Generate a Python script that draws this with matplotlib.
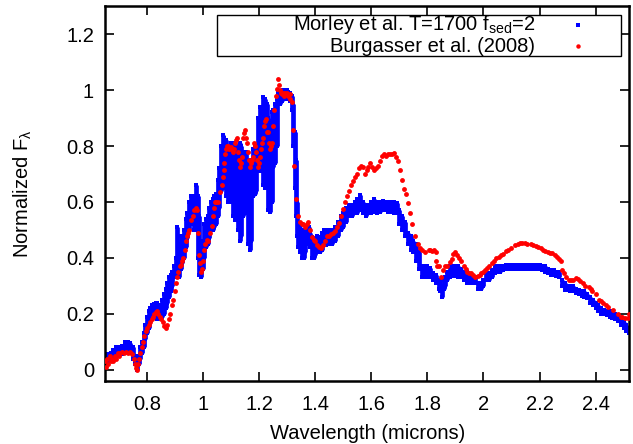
import matplotlib
matplotlib.use('Agg')
import matplotlib.pyplot as plt
from matplotlib.ticker import FormatStrFormatter
from matplotlib.patches import Rectangle
import numpy as np

plt.rcParams['font.family'] = ['Liberation Sans', 'DejaVu Sans']
plt.rcParams['mathtext.fontset'] = 'custom'
plt.rcParams['mathtext.rm'] = 'Liberation Sans'
plt.rcParams['mathtext.it'] = 'Liberation Sans'

# Morley et al. model: wavelength, lower and upper edge of the dense point band
blue_wl = [0.650, 0.660, 0.670, 0.680, 0.690, 0.700, 0.710, 0.720, 0.730, 0.740,
           0.750, 0.757, 0.764, 0.770, 0.776, 0.782, 0.788, 0.794, 0.800, 0.806,
           0.812, 0.818, 0.824, 0.830, 0.836, 0.842, 0.848, 0.854, 0.860, 0.866,
           0.872, 0.878, 0.884, 0.890, 0.896, 0.902, 0.908, 0.914, 0.920, 0.926,
           0.932, 0.938, 0.944, 0.950, 0.956, 0.962, 0.968, 0.974, 0.980, 0.986,
           0.992, 0.998, 1.004, 1.010, 1.016, 1.022, 1.028, 1.034, 1.040, 1.046,
           1.052, 1.058, 1.064, 1.070, 1.076, 1.082, 1.088, 1.094, 1.100, 1.106,
           1.112, 1.118, 1.124, 1.130, 1.136, 1.142, 1.148, 1.154, 1.160, 1.166,
           1.172, 1.178, 1.184, 1.190, 1.196, 1.202, 1.208, 1.214, 1.220, 1.226,
           1.232, 1.238, 1.244, 1.250, 1.256, 1.262, 1.268, 1.274, 1.280, 1.286,
           1.292, 1.298, 1.304, 1.310, 1.316, 1.322, 1.326, 1.330, 1.334, 1.340,
           1.346, 1.352, 1.358, 1.364, 1.370, 1.376, 1.382, 1.388, 1.394, 1.400,
           1.406, 1.412, 1.418, 1.424, 1.430, 1.440, 1.450, 1.460, 1.470, 1.480,
           1.490, 1.500, 1.510, 1.520, 1.530, 1.540, 1.550, 1.560, 1.570, 1.580,
           1.590, 1.600, 1.610, 1.620, 1.630, 1.640, 1.650, 1.660, 1.670, 1.680,
           1.690, 1.700, 1.710, 1.720, 1.730, 1.740, 1.750, 1.760, 1.770, 1.780,
           1.790, 1.800, 1.810, 1.820, 1.830, 1.840, 1.846, 1.852, 1.858, 1.864,
           1.870, 1.880, 1.890, 1.900, 1.910, 1.920, 1.930, 1.940, 1.950, 1.960,
           1.970, 1.980, 1.990, 2.000, 2.010, 2.020, 2.030, 2.040, 2.050, 2.060,
           2.070, 2.080, 2.090, 2.100, 2.110, 2.120, 2.130, 2.140, 2.150, 2.160,
           2.170, 2.180, 2.190, 2.200, 2.210, 2.220, 2.230, 2.240, 2.250, 2.260,
           2.270, 2.280, 2.290, 2.300, 2.310, 2.320, 2.330, 2.340, 2.350, 2.360,
           2.370, 2.380, 2.390, 2.400, 2.410, 2.420, 2.430, 2.440, 2.450, 2.460,
           2.470, 2.480, 2.490, 2.500, 2.510, 2.520]
blue_lo = [0.02, 0.03, 0.03, 0.04, 0.05, 0.05, 0.055, 0.06, 0.065, 0.06,
           0.04, 0.02, 0.0, 0.02, 0.04, 0.06, 0.08, 0.11, 0.13, 0.15,
           0.17, 0.18, 0.19, 0.19, 0.18, 0.19, 0.18, 0.19, 0.20, 0.22,
           0.24, 0.26, 0.28, 0.30, 0.33, 0.34, 0.34, 0.33, 0.36, 0.38,
           0.40, 0.44, 0.47, 0.50, 0.52, 0.54, 0.50, 0.50, 0.40, 0.34,
           0.33, 0.36, 0.40, 0.44, 0.45, 0.47, 0.50, 0.50, 0.51, 0.52,
           0.55, 0.58, 0.64, 0.66, 0.65, 0.62, 0.60, 0.60, 0.60, 0.55,
           0.535, 0.56, 0.50, 0.46, 0.48, 0.55, 0.56, 0.58, 0.45, 0.43,
           0.46, 0.62, 0.63, 0.64, 0.72, 0.71, 0.73, 0.66, 0.65, 0.67,
           0.57, 0.565, 0.60, 0.725, 0.74, 0.80, 0.95, 0.95, 0.96, 0.97,
           0.97, 0.97, 0.97, 0.96, 0.93, 0.80, 0.65, 0.55, 0.48, 0.44,
           0.42, 0.40, 0.40, 0.42, 0.45, 0.46, 0.44, 0.40, 0.40, 0.41,
           0.42, 0.42, 0.42, 0.43, 0.445, 0.445, 0.45, 0.45, 0.46, 0.48,
           0.50, 0.51, 0.53, 0.55, 0.55, 0.56, 0.56, 0.57, 0.56, 0.55,
           0.56, 0.56, 0.565, 0.56, 0.565, 0.57, 0.57, 0.565, 0.565, 0.56,
           0.56, 0.52, 0.50, 0.48, 0.45, 0.43, 0.42, 0.39, 0.36, 0.33,
           0.33, 0.33, 0.33, 0.32, 0.31, 0.29, 0.28, 0.26, 0.29, 0.30,
           0.32, 0.33, 0.335, 0.335, 0.33, 0.33, 0.32, 0.31, 0.31, 0.31,
           0.31, 0.29, 0.29, 0.30, 0.32, 0.32, 0.33, 0.345, 0.35, 0.35,
           0.355, 0.36, 0.36, 0.36, 0.36, 0.36, 0.36, 0.36, 0.36, 0.36,
           0.36, 0.36, 0.36, 0.36, 0.355, 0.35, 0.345, 0.34, 0.34, 0.335,
           0.33, 0.30, 0.285, 0.285, 0.28, 0.28, 0.275, 0.27, 0.265, 0.26,
           0.255, 0.24, 0.23, 0.22, 0.21, 0.20, 0.20, 0.195, 0.19, 0.185,
           0.18, 0.175, 0.16, 0.15, 0.14, 0.13]
blue_hi = [0.05, 0.055, 0.06, 0.07, 0.08, 0.08, 0.085, 0.10, 0.10, 0.095,
           0.08, 0.05, 0.03, 0.05, 0.08, 0.10, 0.13, 0.16, 0.19, 0.21,
           0.22, 0.23, 0.235, 0.24, 0.24, 0.23, 0.23, 0.25, 0.27, 0.29,
           0.31, 0.33, 0.34, 0.35, 0.37, 0.40, 0.51, 0.45, 0.48, 0.46,
           0.50, 0.54, 0.56, 0.60, 0.62, 0.60, 0.62, 0.66, 0.62, 0.55,
           0.45, 0.46, 0.52, 0.54, 0.55, 0.58, 0.60, 0.61, 0.62, 0.63,
           0.68, 0.72, 0.80, 0.84, 0.83, 0.82, 0.80, 0.80, 0.81, 0.80,
           0.81, 0.79, 0.80, 0.81, 0.80, 0.78, 0.77, 0.78, 0.75, 0.74,
           0.75, 0.79, 0.80, 0.80, 0.90, 0.94, 0.93, 0.975, 0.97, 0.95,
           0.90, 0.89, 0.92, 0.93, 0.95, 0.97, 0.99, 0.995, 0.99, 1.0,
           1.0, 1.0, 0.995, 0.99, 0.98, 0.95, 0.85, 0.75, 0.60, 0.52,
           0.51, 0.50, 0.49, 0.50, 0.51, 0.51, 0.49, 0.475, 0.47, 0.47,
           0.48, 0.47, 0.475, 0.49, 0.50, 0.50, 0.50, 0.50, 0.51, 0.53,
           0.55, 0.56, 0.58, 0.59, 0.59, 0.60, 0.61, 0.625, 0.60, 0.59,
           0.59, 0.60, 0.61, 0.60, 0.60, 0.605, 0.60, 0.60, 0.60, 0.60,
           0.595, 0.57, 0.55, 0.53, 0.49, 0.48, 0.46, 0.45, 0.42, 0.37,
           0.37, 0.37, 0.365, 0.345, 0.34, 0.32, 0.32, 0.30, 0.32, 0.33,
           0.35, 0.37, 0.37, 0.37, 0.37, 0.36, 0.35, 0.35, 0.34, 0.33,
           0.33, 0.31, 0.31, 0.32, 0.345, 0.345, 0.355, 0.37, 0.37, 0.37,
           0.37, 0.375, 0.375, 0.375, 0.375, 0.375, 0.375, 0.375, 0.375, 0.375,
           0.375, 0.375, 0.375, 0.375, 0.37, 0.37, 0.36, 0.357, 0.355, 0.35,
           0.35, 0.32, 0.31, 0.30, 0.30, 0.30, 0.29, 0.285, 0.28, 0.28,
           0.27, 0.26, 0.25, 0.24, 0.23, 0.22, 0.215, 0.21, 0.21, 0.20,
           0.20, 0.19, 0.18, 0.17, 0.16, 0.15]

# Burgasser et al. (2008) spectrum
red_wl = [0.650, 0.654, 0.658, 0.662, 0.666, 0.670, 0.675, 0.680, 0.685, 0.690,
          0.695, 0.700, 0.705, 0.711, 0.718, 0.725, 0.732, 0.739, 0.746, 0.752,
          0.757, 0.761, 0.764, 0.768, 0.772, 0.775, 0.780, 0.786, 0.790, 0.796,
          0.800, 0.805, 0.811, 0.816, 0.821, 0.826, 0.830, 0.836, 0.840, 0.846,
          0.851, 0.857, 0.862, 0.866, 0.871, 0.877, 0.882, 0.887, 0.893, 0.898,
          0.904, 0.907, 0.911, 0.916, 0.921, 0.925, 0.929, 0.934, 0.939, 0.943,
          0.946, 0.950, 0.957, 0.962, 0.968, 0.975, 0.979, 0.982, 0.986, 0.989,
          0.993, 0.996, 1.000, 1.004, 1.008, 1.014, 1.018, 1.025, 1.032, 1.036,
          1.039, 1.043, 1.047, 1.054, 1.061, 1.066, 1.071, 1.073, 1.075, 1.079,
          1.082, 1.086, 1.089, 1.093, 1.096, 1.100, 1.104, 1.107, 1.111, 1.114,
          1.118, 1.121, 1.125, 1.128, 1.132, 1.136, 1.139, 1.143, 1.146, 1.150,
          1.154, 1.157, 1.161, 1.164, 1.168, 1.172, 1.175, 1.179, 1.182, 1.186,
          1.189, 1.193, 1.196, 1.200, 1.204, 1.207, 1.211, 1.214, 1.216, 1.221,
          1.225, 1.229, 1.232, 1.236, 1.239, 1.243, 1.246, 1.250, 1.254, 1.261,
          1.264, 1.268, 1.272, 1.275, 1.279, 1.282, 1.286, 1.290, 1.293, 1.297,
          1.300, 1.304, 1.308, 1.311, 1.316, 1.321, 1.325, 1.332, 1.339, 1.346,
          1.352, 1.357, 1.364, 1.371, 1.375, 1.382, 1.389, 1.396, 1.400, 1.407,
          1.414, 1.421, 1.429, 1.436, 1.443, 1.450, 1.457, 1.464, 1.471, 1.479,
          1.486, 1.493, 1.500, 1.507, 1.514, 1.521, 1.529, 1.536, 1.543, 1.550,
          1.557, 1.564, 1.571, 1.579, 1.586, 1.589, 1.596, 1.604, 1.611, 1.618,
          1.625, 1.632, 1.639, 1.646, 1.654, 1.661, 1.668, 1.675, 1.682, 1.689,
          1.696, 1.704, 1.711, 1.718, 1.725, 1.732, 1.739, 1.746, 1.757, 1.768,
          1.775, 1.782, 1.793, 1.804, 1.811, 1.818, 1.825, 1.829, 1.829, 1.836,
          1.843, 1.850, 1.857, 1.864, 1.871, 1.879, 1.886, 1.893, 1.900, 1.907,
          1.914, 1.921, 1.929, 1.936, 1.943, 1.950, 1.957, 1.964, 1.971, 1.979,
          1.986, 1.993, 2.000, 2.007, 2.014, 2.021, 2.029, 2.036, 2.046, 2.054,
          2.064, 2.071, 2.082, 2.089, 2.100, 2.114, 2.125, 2.132, 2.139, 2.150,
          2.157, 2.168, 2.175, 2.186, 2.193, 2.204, 2.211, 2.221, 2.229, 2.239,
          2.246, 2.257, 2.264, 2.271, 2.275, 2.279, 2.286, 2.293, 2.304, 2.311,
          2.318, 2.329, 2.339, 2.346, 2.354, 2.364, 2.375, 2.382, 2.389, 2.400,
          2.411, 2.418, 2.425, 2.436, 2.446, 2.461, 2.479, 2.489, 2.496, 2.505,
          2.514, 2.520]
red_flux = [0.03, 0.01, 0.04, 0.02, 0.05, 0.03, 0.04, 0.03, 0.05, 0.04,
            0.06, 0.05, 0.06, 0.065, 0.06, 0.065, 0.06, 0.065, 0.055, 0.04,
            0.02, 0.005, 0.0, 0.02, 0.04, 0.06, 0.08, 0.10, 0.12, 0.14,
            0.15, 0.16, 0.17, 0.18, 0.19, 0.20, 0.205, 0.21, 0.20, 0.19,
            0.18, 0.17, 0.155, 0.15, 0.16, 0.18, 0.20, 0.23, 0.25, 0.28,
            0.31, 0.33, 0.35, 0.37, 0.375, 0.39, 0.40, 0.43, 0.46, 0.48,
            0.49, 0.50, 0.535, 0.55, 0.57, 0.58, 0.57, 0.49, 0.41, 0.38,
            0.35, 0.36, 0.39, 0.43, 0.45, 0.465, 0.46, 0.49, 0.515, 0.55,
            0.58, 0.60, 0.60, 0.60, 0.635, 0.66, 0.69, 0.715, 0.74, 0.77,
            0.79, 0.80, 0.80, 0.79, 0.79, 0.795, 0.79, 0.78, 0.79, 0.81,
            0.82, 0.83, 0.78, 0.75, 0.725, 0.74, 0.76, 0.83, 0.845, 0.857,
            0.83, 0.81, 0.78, 0.75, 0.725, 0.74, 0.75, 0.76, 0.81, 0.80,
            0.78, 0.75, 0.725, 0.74, 0.76, 0.79, 0.81, 0.83, 0.87, 0.89,
            0.895, 0.85, 0.85, 0.81, 0.79, 0.80, 0.81, 0.87, 0.93, 0.98,
            1.005, 1.04, 1.02, 1.0, 0.99, 0.985, 0.99, 0.98, 0.99, 0.985,
            0.99, 0.98, 0.985, 0.97, 0.957, 0.857, 0.73, 0.61, 0.55, 0.53,
            0.52, 0.52, 0.51, 0.52, 0.53, 0.50, 0.475, 0.465, 0.46, 0.445,
            0.44, 0.435, 0.445, 0.46, 0.48, 0.48, 0.485, 0.49, 0.495, 0.51,
            0.525, 0.55, 0.575, 0.60, 0.62, 0.64, 0.66, 0.675, 0.69, 0.70,
            0.72, 0.73, 0.725, 0.70, 0.715, 0.725, 0.74, 0.725, 0.715, 0.72,
            0.73, 0.745, 0.765, 0.77, 0.765, 0.77, 0.77, 0.772, 0.775, 0.76,
            0.745, 0.715, 0.68, 0.645, 0.63, 0.595, 0.56, 0.52, 0.48, 0.45,
            0.435, 0.43, 0.42, 0.43, 0.43, 0.425, 0.43, 0.42, 0.39, 0.37,
            0.37, 0.33, 0.355, 0.37, 0.37, 0.385, 0.395, 0.415, 0.42, 0.41,
            0.40, 0.39, 0.37, 0.36, 0.35, 0.345, 0.345, 0.34, 0.33, 0.335,
            0.34, 0.345, 0.35, 0.357, 0.365, 0.37, 0.38, 0.39, 0.40, 0.405,
            0.41, 0.415, 0.425, 0.43, 0.435, 0.445, 0.45, 0.455, 0.455, 0.455,
            0.45, 0.45, 0.445, 0.442, 0.44, 0.435, 0.43, 0.425, 0.42, 0.418,
            0.417, 0.41, 0.405, 0.395, 0.39, 0.357, 0.345, 0.33, 0.32, 0.32,
            0.32, 0.327, 0.325, 0.318, 0.31, 0.30, 0.297, 0.29, 0.28, 0.27,
            0.25, 0.245, 0.24, 0.23, 0.225, 0.215, 0.20, 0.19, 0.19, 0.185,
            0.185, 0.20]

fig = plt.figure(figsize=(6.33, 4.44), dpi=100)
ax = fig.add_axes([0.166, 0.142, 0.828, 0.844])

blue = '#0000ff'
red = '#ff0000'

ax.vlines(blue_wl, blue_lo, blue_hi, colors=blue, linewidth=3.4, zorder=2)
ax.plot(blue_wl, blue_lo, 's', color=blue, ms=3.4, mew=0, zorder=2)
ax.plot(blue_wl, blue_hi, 's', color=blue, ms=3.4, mew=0, zorder=2)
ax.plot(red_wl, red_flux, 'o', color=red, ms=3.5, mew=0, zorder=3)

ax.set_xlim(0.65, 2.52)
ax.set_ylim(-0.04, 1.3)
ax.set_xticks(np.arange(0.8, 2.41, 0.2))
ax.set_yticks(np.arange(0, 1.21, 0.2))
ax.xaxis.set_major_formatter(FormatStrFormatter('%g'))
ax.yaxis.set_major_formatter(FormatStrFormatter('%g'))
ax.tick_params(direction='in', length=6.5, width=1.2, top=True, right=True,
               labelsize=14.5)
ax.tick_params(axis='x', pad=10)
ax.tick_params(axis='y', pad=8)
for s in ax.spines.values():
    s.set_linewidth(1.8)

ax.set_xlabel('Wavelength (microns)', fontsize=14.5, labelpad=7)
ax.set_ylabel(r'Normalized F$_\lambda$', fontsize=14.5, labelpad=23)

# gnuplot style key: right aligned text, sample to the right
ax.add_patch(Rectangle((0.214, 0.867), 0.771, 0.109, transform=ax.transAxes,
                       fill=True, facecolor='white', edgecolor='black',
                       linewidth=1.0, zorder=5))
ax.text(0.821, 0.951, r'Morley et al. T=1700 f$_{\rm sed}$=2', transform=ax.transAxes,
        ha='right', va='center', fontsize=14.5, zorder=6)
ax.text(0.821, 0.893, 'Burgasser et al. (2008)', transform=ax.transAxes,
        ha='right', va='center', fontsize=14.5, zorder=6)
ax.plot([0.903], [0.951], 's', color=blue, ms=3.2, mew=0, transform=ax.transAxes, zorder=6)
ax.plot([0.903], [0.893], 'o', color=red, ms=3.2, mew=0, transform=ax.transAxes, zorder=6)

fig.savefig('out.png', dpi=100)
